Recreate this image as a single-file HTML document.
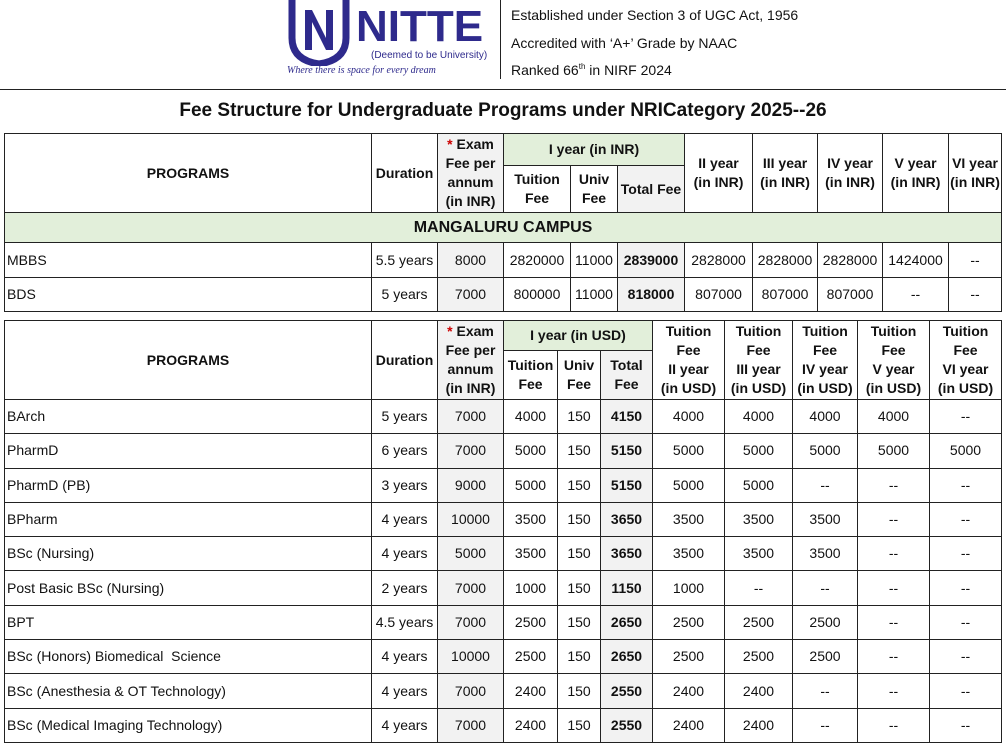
<!DOCTYPE html>
<html><head><meta charset="utf-8"><style>
*{margin:0;padding:0;box-sizing:border-box}
body{width:1006px;height:747px;background:#fff;position:relative;overflow:hidden;font-family:"Liberation Sans",sans-serif;color:#111}
.a{position:absolute}
table{position:absolute;left:4px;border-collapse:collapse;table-layout:fixed;font-size:14px}
td{border:1.5px solid #222;text-align:center;vertical-align:middle;line-height:19px;padding:0;white-space:nowrap}
.h td{font-weight:bold}
.g{background:#e2efda}
.s{background:#f2f2f2}
.l{text-align:left;padding-left:2px}
.b{font-weight:bold}
.r{color:#c00}
sup{font-size:8px;line-height:0;vertical-align:6px}
</style></head><body>
<svg class="a" style="left:288px;top:0" width="62" height="66" viewBox="0 0 62 66">
<path d="M4 0 V38 Q4 60 31 64 Q58 60 58 38 V0" fill="none" stroke="#2e2a8c" stroke-width="7"/>
<path d="M17 10 H24 L38 38 V10 H45 V50 H38 L24 22 V50 H17 Z" fill="#2e2a8c"/>
</svg>
<div class="a" style="left:356px;top:2px;font-size:44px;font-weight:bold;color:#2e2a8c;line-height:50px">NITTE</div>
<div class="a" style="left:371px;top:50px;font-size:10px;color:#2e2a8c">(Deemed to be University)</div>
<div class="a" style="left:287px;top:65px;font-size:10px;font-style:italic;color:#2e2a8c;font-family:'Liberation Serif',serif">Where there is space for every dream</div>
<div class="a" style="left:500px;top:0;width:1px;height:79px;background:#222"></div>
<div class="a" style="left:511px;top:2px;font-size:14px;line-height:27.5px">Established under Section 3 of UGC Act, 1956<br>Accredited with ‘A+’ Grade by NAAC<br>Ranked 66<sup>th</sup> in NIRF 2024</div>
<div class="a" style="left:0;top:89px;width:1006px;height:1px;background:#222"></div>
<div class="a" style="left:0;top:100px;width:1006px;text-align:center;font-size:19px;font-weight:bold">Fee Structure for Undergraduate Programs under NRICategory 2025--26</div>

<table style="top:133px;width:997px">
<colgroup><col style="width:367px"><col style="width:66px"><col style="width:66px"><col style="width:67px"><col style="width:47px"><col style="width:67px"><col style="width:68px"><col style="width:65px"><col style="width:65px"><col style="width:66px"><col style="width:53px"></colgroup>
<tr class="h" style="height:32px"><td rowspan="2">PROGRAMS</td><td rowspan="2">Duration</td><td rowspan="2" class="s"><span class="r">*</span> Exam<br>Fee per<br>annum<br>(in INR)</td><td colspan="3" class="g">I year (in INR)</td><td rowspan="2">II year<br>(in INR)</td><td rowspan="2">III year<br>(in INR)</td><td rowspan="2">IV year<br>(in INR)</td><td rowspan="2">V year<br>(in INR)</td><td rowspan="2">VI year<br>(in INR)</td></tr>
<tr class="h" style="height:47px"><td>Tuition<br>Fee</td><td>Univ<br>Fee</td><td class="s">Total Fee</td></tr>
<tr style="height:30px"><td colspan="11" class="g b" style="font-size:16px">MANGALURU CAMPUS</td></tr>
<tr style="height:35px"><td class="l">MBBS</td><td>5.5 years</td><td class="s">8000</td><td>2820000</td><td>11000</td><td class="s b">2839000</td><td>2828000</td><td>2828000</td><td>2828000</td><td>1424000</td><td>--</td></tr>
<tr style="height:34px"><td class="l">BDS</td><td>5 years</td><td class="s">7000</td><td>800000</td><td>11000</td><td class="s b">818000</td><td>807000</td><td>807000</td><td>807000</td><td>--</td><td>--</td></tr>
</table>

<table style="top:320px;width:997px">
<colgroup><col style="width:367px"><col style="width:66px"><col style="width:66px"><col style="width:54px"><col style="width:43px"><col style="width:52px"><col style="width:72px"><col style="width:68px"><col style="width:65px"><col style="width:72px"><col style="width:72px"></colgroup>
<tr class="h" style="height:30px"><td rowspan="2">PROGRAMS</td><td rowspan="2">Duration</td><td rowspan="2" class="s"><span class="r">*</span> Exam<br>Fee per<br>annum<br>(in INR)</td><td colspan="3" class="g">I year (in USD)</td><td rowspan="2">Tuition<br>Fee<br>II year<br>(in USD)</td><td rowspan="2">Tuition<br>Fee<br>III year<br>(in USD)</td><td rowspan="2">Tuition<br>Fee<br>IV year<br>(in USD)</td><td rowspan="2">Tuition<br>Fee<br>V year<br>(in USD)</td><td rowspan="2">Tuition<br>Fee<br>VI year<br>(in USD)</td></tr>
<tr class="h" style="height:49px"><td>Tuition<br>Fee</td><td>Univ<br>Fee</td><td class="s">Total<br>Fee</td></tr>
<tr style="height:34.3px"><td class="l">BArch</td><td>5 years</td><td class="s">7000</td><td>4000</td><td>150</td><td class="s b">4150</td><td>4000</td><td>4000</td><td>4000</td><td>4000</td><td>--</td></tr>
<tr style="height:34.3px"><td class="l">PharmD</td><td>6 years</td><td class="s">7000</td><td>5000</td><td>150</td><td class="s b">5150</td><td>5000</td><td>5000</td><td>5000</td><td>5000</td><td>5000</td></tr>
<tr style="height:34.3px"><td class="l">PharmD (PB)</td><td>3 years</td><td class="s">9000</td><td>5000</td><td>150</td><td class="s b">5150</td><td>5000</td><td>5000</td><td>--</td><td>--</td><td>--</td></tr>
<tr style="height:34.3px"><td class="l">BPharm</td><td>4 years</td><td class="s">10000</td><td>3500</td><td>150</td><td class="s b">3650</td><td>3500</td><td>3500</td><td>3500</td><td>--</td><td>--</td></tr>
<tr style="height:34.3px"><td class="l">BSc (Nursing)</td><td>4 years</td><td class="s">5000</td><td>3500</td><td>150</td><td class="s b">3650</td><td>3500</td><td>3500</td><td>3500</td><td>--</td><td>--</td></tr>
<tr style="height:34.3px"><td class="l">Post Basic BSc (Nursing)</td><td>2 years</td><td class="s">7000</td><td>1000</td><td>150</td><td class="s b">1150</td><td>1000</td><td>--</td><td>--</td><td>--</td><td>--</td></tr>
<tr style="height:34.3px"><td class="l">BPT</td><td>4.5 years</td><td class="s">7000</td><td>2500</td><td>150</td><td class="s b">2650</td><td>2500</td><td>2500</td><td>2500</td><td>--</td><td>--</td></tr>
<tr style="height:34.3px"><td class="l">BSc (Honors) Biomedical&nbsp; Science</td><td>4 years</td><td class="s">10000</td><td>2500</td><td>150</td><td class="s b">2650</td><td>2500</td><td>2500</td><td>2500</td><td>--</td><td>--</td></tr>
<tr style="height:34.3px"><td class="l">BSc (Anesthesia &amp; OT Technology)</td><td>4 years</td><td class="s">7000</td><td>2400</td><td>150</td><td class="s b">2550</td><td>2400</td><td>2400</td><td>--</td><td>--</td><td>--</td></tr>
<tr style="height:34.3px"><td class="l">BSc (Medical Imaging Technology)</td><td>4 years</td><td class="s">7000</td><td>2400</td><td>150</td><td class="s b">2550</td><td>2400</td><td>2400</td><td>--</td><td>--</td><td>--</td></tr>
</table>
</body></html>
